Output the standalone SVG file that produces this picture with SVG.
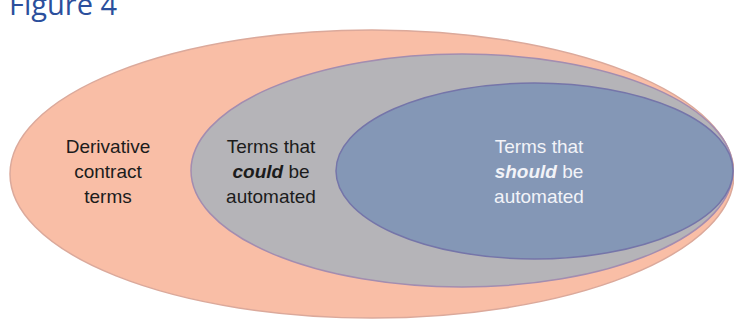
<svg xmlns="http://www.w3.org/2000/svg" width="734" height="320" viewBox="0 0 734 320">
  <style>
    .lbl { font-family: "Liberation Sans", Arial, sans-serif; font-size: 19px; text-anchor: middle; }
    .dark { fill: #1c1c1c; }
    .light { fill: #f2f3f8; }
    .em { font-weight: bold; font-style: italic; }
    .title { font-family: "Open Sans", "Liberation Sans", sans-serif; font-size: 29px; fill: #2b4f9c; }
  </style>
  <rect width="734" height="320" fill="#ffffff"/>
  <text class="title" x="9" y="15">Figure 4</text>

  <!-- outer set -->
  <g id="derivative-terms">
    <ellipse cx="372" cy="174" rx="362" ry="144" fill="#f9bea6" stroke="#dba99b" stroke-width="1.5"/>
    <text class="lbl dark" x="108" y="153">Derivative</text>
    <text class="lbl dark" x="108" y="178">contract</text>
    <text class="lbl dark" x="108" y="203">terms</text>
  </g>

  <!-- middle set -->
  <g id="could-be-automated">
    <ellipse cx="462" cy="170.5" rx="271" ry="116.5" fill="#b5b4b8" stroke="#a38db0" stroke-width="1.5"/>
    <text class="lbl dark" x="271" y="153">Terms that</text>
    <text class="lbl dark" x="271" y="178"><tspan class="em">could</tspan> be</text>
    <text class="lbl dark" x="271" y="203">automated</text>
  </g>

  <!-- inner set -->
  <g id="should-be-automated">
    <ellipse cx="534.5" cy="171" rx="198.5" ry="88" fill="#8497b6" stroke="#7575a9" stroke-width="1.5"/>
    <text class="lbl light" x="539" y="153">Terms that</text>
    <text class="lbl light" x="539" y="178"><tspan class="em">should</tspan> be</text>
    <text class="lbl light" x="539" y="203">automated</text>
  </g>

  <g id="connectors"/>
</svg>
